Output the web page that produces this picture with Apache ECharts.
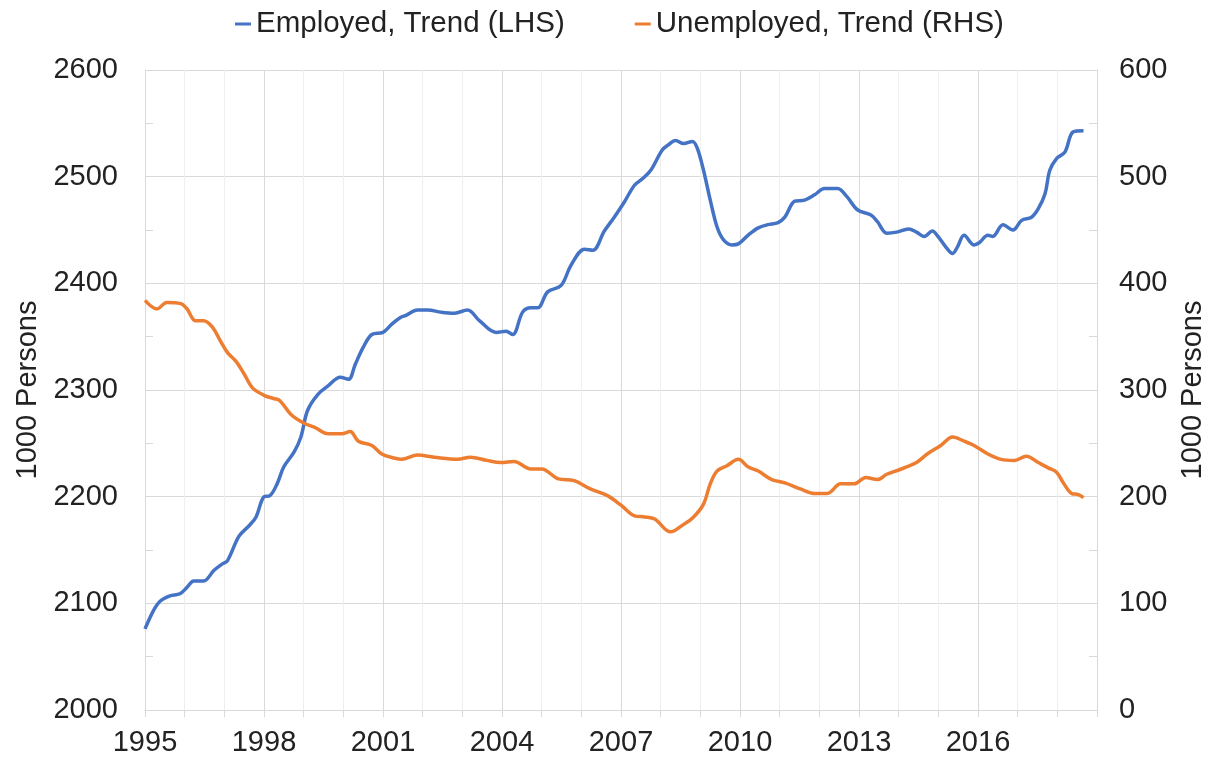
<!DOCTYPE html>
<html>
<head>
<meta charset="utf-8">
<style>
  html, body { margin: 0; padding: 0; background: #fff; }
  #chart { width: 1209px; height: 761px; }
</style>
<script src="https://cdn.jsdelivr.net/npm/echarts@6/dist/echarts.min.js"></script>
</head>
<body>
<div id="chart"></div>
<script>
// employed trend, thousands (left axis)
const empYears = [
  1995.0, 1995.21, 1995.38, 1995.63, 1995.88, 1996.06, 1996.23, 1996.48, 1996.74, 1996.95,
  1997.08, 1997.37, 1997.63, 1997.8, 1998.0, 1998.15, 1998.33, 1998.5, 1998.76, 1998.93,
  1999.1, 1999.36, 1999.62, 1999.92, 2000.13, 2000.3, 2000.5, 2000.72, 2001.0, 2001.23,
  2001.44, 2001.58, 2001.87, 2002.13, 2002.46, 2002.8, 2003.13, 2003.43, 2003.85, 2004.1,
  2004.27, 2004.52, 2004.73, 2004.9, 2005.15, 2005.49, 2005.74, 2006.08, 2006.29, 2006.58,
  2006.83, 2007.08, 2007.34, 2007.54, 2007.75, 2008.04, 2008.2, 2008.37, 2008.58, 2008.8,
  2008.92, 2009.08, 2009.25, 2009.42, 2009.58, 2009.8, 2009.96, 2010.2, 2010.46, 2010.7,
  2010.96, 2011.13, 2011.38, 2011.63, 2011.88, 2012.13, 2012.46, 2012.7, 2012.96, 2013.3,
  2013.46, 2013.7, 2013.95, 2014.25, 2014.45, 2014.64, 2014.85, 2014.97, 2015.19, 2015.36,
  2015.48, 2015.65, 2015.9, 2016.03, 2016.25, 2016.37, 2016.63, 2016.88, 2017.1, 2017.35,
  2017.52, 2017.69, 2017.81, 2017.98, 2018.19, 2018.4, 2018.66
]
const employed = [
  2076, 2093, 2102, 2107, 2109, 2115, 2121, 2121, 2131, 2137,
  2140, 2163, 2173, 2181, 2200, 2201, 2212, 2228, 2242, 2256,
  2281, 2296, 2304, 2312, 2310, 2324, 2340, 2352, 2354, 2362,
  2368, 2370, 2375, 2375, 2373, 2372, 2375, 2365, 2354, 2355,
  2352, 2373, 2377, 2377, 2392, 2398, 2417, 2432, 2431, 2449,
  2462, 2476, 2492, 2498, 2506, 2525, 2530, 2534, 2531, 2533,
  2527, 2506, 2478, 2453, 2441, 2436, 2437, 2445, 2452, 2455,
  2457, 2462, 2477, 2478, 2483, 2489, 2489, 2481, 2469, 2464,
  2458, 2447, 2448, 2451, 2448, 2444, 2449, 2445, 2434, 2428,
  2434, 2445, 2436, 2438, 2445, 2444, 2455, 2450, 2459, 2462,
  2470, 2484, 2506, 2517, 2523, 2542, 2543
]

// unemployed trend, thousands (right axis)
const unempYears = [
  1995.0, 1995.3, 1995.55, 1995.9, 1996.06, 1996.27, 1996.48, 1996.7, 1996.9, 1997.08,
  1997.29, 1997.5, 1997.71, 1998.0, 1998.24, 1998.4, 1998.68, 1999.0, 1999.28, 1999.62,
  1999.96, 2000.17, 2000.38, 2000.72, 2000.97, 2001.3, 2001.47, 2001.87, 2002.29, 2002.88,
  2003.2, 2003.62, 2003.97, 2004.3, 2004.73, 2005.0, 2005.4, 2005.82, 2006.24, 2006.66,
  2007.0, 2007.34, 2007.6, 2007.85, 2008.25, 2008.54, 2008.83, 2009.08, 2009.25, 2009.42,
  2009.67, 2009.96, 2010.2, 2010.46, 2010.8, 2011.13, 2011.54, 2011.88, 2012.2, 2012.54,
  2012.88, 2013.17, 2013.46, 2013.7, 2014.0, 2014.2, 2014.45, 2014.72, 2015.06, 2015.36,
  2015.65, 2015.9, 2016.25, 2016.58, 2016.92, 2017.22, 2017.52, 2017.77, 2017.98, 2018.15,
  2018.36, 2018.53, 2018.66
]
const unemployed = [
  384, 376, 382, 381, 376, 365, 365, 359, 346, 335,
  327, 315, 302, 295, 292, 290, 277, 269, 265, 259,
  259, 261, 252, 248, 240, 236, 235, 239, 237, 235,
  237, 234, 232, 233, 226, 226, 217, 215, 207, 201,
  192, 182, 181, 179, 167, 173, 181, 193, 212, 224,
  229, 235, 228, 224, 216, 213, 207, 203, 203, 212,
  212, 218, 216, 221, 225, 228, 232, 240, 248, 256,
  252, 248, 240, 235, 234, 238, 232, 227, 223, 213,
  203, 202, 199
]

const TEXT = '#222'
const FONT = 'Liberation Sans, Arial, sans-serif'
const GRID_COLOR = '#d9d9d9'

const chart = echarts.init(document.getElementById('chart'))

chart.setOption({
  animation: false,
  textStyle: { fontFamily: FONT, color: TEXT },
  legend: {
    top: 4,
    left: 230,
    itemGap: 70,
    itemWidth: 16,
    itemHeight: 3,
    icon: 'rect',
    textStyle: { fontSize: 29.5, color: TEXT, fontFamily: FONT },
    data: ['Employed, Trend (LHS)', 'Unemployed, Trend (RHS)'],
  },
  grid: { left: 145, right: 112, top: 70, bottom: 51, outerBoundsMode: 'none' },
  xAxis: {
    type: 'value',
    min: 1995,
    max: 2019,
    interval: 3,
    axisLine: { lineStyle: { color: GRID_COLOR, width: 1 } },
    axisTick: { show: true, length: 7, lineStyle: { color: GRID_COLOR } },
    minorTick: { show: true, splitNumber: 3, length: 7, lineStyle: { color: GRID_COLOR } },
    splitLine: { show: true, lineStyle: { color: GRID_COLOR } },
    minorSplitLine: { show: true, lineStyle: { color: '#efefef' } },
    axisLabel: {
      fontSize: 29,
      color: TEXT,
      margin: 18,
      formatter: v => (v >= 2019 ? '' : String(v)),
    },
  },
  yAxis: [
    {
      type: 'value',
      min: 2000,
      max: 2600,
      interval: 100,
      name: '1000 Persons',
      nameLocation: 'middle',
      nameGap: 98,
      nameTextStyle: { fontSize: 29, color: TEXT },
      axisLine: { show: true, lineStyle: { color: GRID_COLOR } },
      axisTick: { show: true, inside: true, length: 8, lineStyle: { color: GRID_COLOR } },
      minorTick: { show: true, splitNumber: 2, length: 8, lineStyle: { color: GRID_COLOR } },
      splitLine: { show: true, lineStyle: { color: GRID_COLOR } },
      axisLabel: { fontSize: 29, color: TEXT, margin: 27, formatter: v => String(v) },
    },
    {
      type: 'value',
      min: 0,
      max: 600,
      interval: 100,
      position: 'right',
      name: '1000 Persons',
      nameLocation: 'middle',
      nameGap: 80,
      nameTextStyle: { fontSize: 29, color: TEXT },
      axisLine: { show: true, lineStyle: { color: GRID_COLOR } },
      axisTick: { show: true, inside: true, length: 8, lineStyle: { color: GRID_COLOR } },
      minorTick: { show: true, splitNumber: 2, length: 8, lineStyle: { color: GRID_COLOR } },
      splitLine: { show: false },
      axisLabel: { fontSize: 29, color: TEXT, margin: 22, formatter: v => String(v) },
    },
  ],
  series: [
    {
      name: 'Employed, Trend (LHS)',
      type: 'line',
      yAxisIndex: 0,
      smooth: 0.35,
      showSymbol: false,
      color: '#4472C4',
      lineStyle: { width: 3.5 },
      data: empYears.map((y, i) => [y, employed[i]]),
    },
    {
      name: 'Unemployed, Trend (RHS)',
      type: 'line',
      yAxisIndex: 1,
      smooth: 0.35,
      showSymbol: false,
      color: '#ED7D31',
      lineStyle: { width: 3.5 },
      data: unempYears.map((y, i) => [y, unemployed[i]]),
    },
  ],
})
</script>
</body>
</html>
